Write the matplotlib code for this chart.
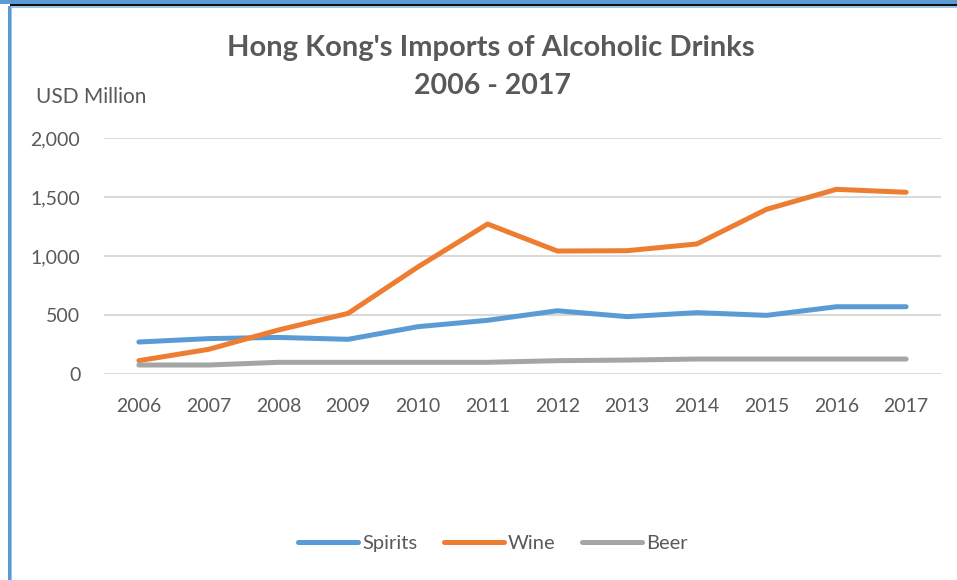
import matplotlib
matplotlib.use('Agg')
import matplotlib.pyplot as plt
from matplotlib.lines import Line2D
from matplotlib.patches import Rectangle

# values (USD million)
years = ['2006', '2007', '2008', '2009', '2010', '2011', '2012', '2013', '2014', '2015', '2016', '2017']
spirits = [271, 300, 310, 294, 401, 455, 536, 486, 520, 497, 570, 570]
wine = [113, 209, 373, 514, 907, 1271, 1042, 1045, 1102, 1396, 1565, 1540]
beer = [76, 76, 99, 99, 99, 99, 113, 118, 127, 127, 127, 127]

series_names = ['Spirits', 'Wine', 'Beer']
colors = ['#5B9BD5', '#ED7D31', '#A5A5A5']
y_ticks = [0, 500, 1000, 1500, 2000]

plt.rcParams['font.family'] = ['Lato', 'DejaVu Sans']
txt = '#595959'

fig = plt.figure(figsize=(9.57, 5.8), dpi=100)
ax = fig.add_axes([104/957, 1-374/580, (941-104)/957, (374-138)/580])

x = list(range(len(years)))
for vals, name, c in zip([spirits, wine, beer], series_names, colors):
    ax.plot(x, vals, color=c, lw=3.6, solid_capstyle='round', solid_joinstyle='round', label=name, zorder=3)

ax.set_xlim(-0.5, len(years) - 0.5)
ax.set_ylim(0, 2000)
ax.set_yticks(y_ticks)
ax.set_yticklabels([f'{v:,}' for v in y_ticks])
ax.set_xticks(x)
ax.set_xticklabels(years)
ax.grid(axis='y', color='#D9D9D9', lw=1.5, zorder=0)
ax.set_axisbelow(True)
for s in ax.spines.values():
    s.set_visible(False)
ax.tick_params(length=0, labelsize=14, colors=txt)
ax.tick_params(axis='y', pad=17)
ax.tick_params(axis='x', pad=17)

fig.text(491/957, 1-48/580, "Hong Kong's Imports of Alcoholic Drinks", ha='center', va='center',
         fontsize=21, fontweight='bold', color=txt)
fig.text(492/957, 1-86/580, '2006 - 2017', ha='center', va='center',
         fontsize=20.5, fontweight='bold', color=txt)
fig.text(36/957, 1-97/580, 'USD Million', ha='left', va='center', fontsize=15, color=txt)

handles = [Line2D([], [], color=c, lw=3.6, solid_capstyle='round') for c in colors]
fig.legend(handles, series_names, loc='center', bbox_to_anchor=(493/957, 1-543/580),
           ncol=3, frameon=False, fontsize=14.5, labelcolor=txt, handlelength=3.0,
           handletextpad=0.2, columnspacing=1.3)

# page borders of the screenshot
fig.add_artist(Rectangle((0, 1-4/580), 1, 4/580, transform=fig.transFigure, color='#5B9BD5', lw=0))
fig.add_artist(Rectangle((10/957, 1-6/580), 1, 2/580, transform=fig.transFigure, color='#111111', lw=0))
fig.add_artist(Rectangle((10/957, 1-7.5/580), 1, 1.5/580, transform=fig.transFigure, color='#9DC3E6', lw=0))
fig.add_artist(Rectangle((8/957, 0), 2.5/957, 1-6/580, transform=fig.transFigure, color='#5B9BD5', lw=0))
fig.add_artist(Rectangle((10.5/957, 0), 1.2/957, 1-6/580, transform=fig.transFigure, color='#9DC3E6', lw=0))

fig.savefig('out.png', dpi=100)
